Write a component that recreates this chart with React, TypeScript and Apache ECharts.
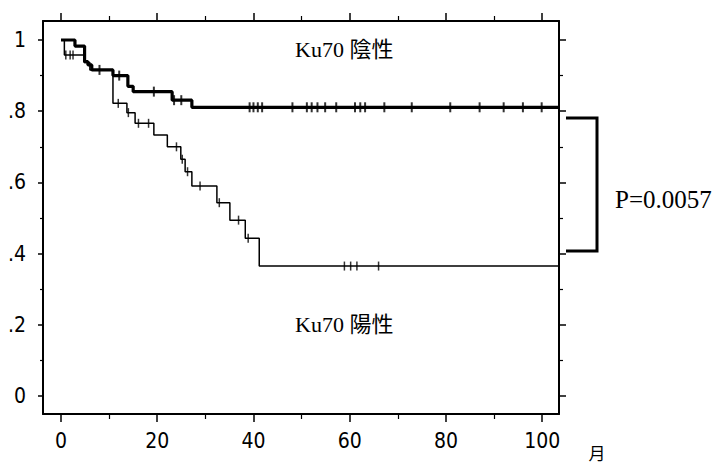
import React, { useEffect, useRef } from "react";
import * as echarts from "echarts";

// Axis ticks / labels
const xTickLabels = [0, 20, 40, 60, 80, 100];
const xMinorTicks = [10, 30, 50, 70, 90];
const yTickLabels = [0, 0.2, 0.4, 0.6, 0.8, 1];
const yMinorTicks = [0.1, 0.3, 0.5, 0.7, 0.9];

// Ku70 negative (thick curve): time of step (months) and survival after step
const negTimes = [0, 2.9, 4.9, 5.6, 6.4, 10.8, 13.9, 15.0, 23.1, 27.2, 103.5];
const negSurv = [1.0, 0.983, 0.939, 0.93, 0.916, 0.9, 0.87, 0.855, 0.831, 0.811, 0.811];
const negCensored = [8.0, 12.1, 19.3, 23.5, 25.0, 39.2, 40.0, 40.9, 41.8, 48.1, 51.1, 52.1, 53.3, 54.9, 57.2, 61.1, 62.2, 63.2, 67.2, 72.9, 80.9, 87.0, 92.0, 96.0, 99.9];

// Ku70 positive (thin curve)
const posTimes = [0, 0.7, 4.8, 6.0, 10.8, 13.7, 15.4, 19.3, 22.1, 24.9, 25.8, 27.2, 32.4, 35.1, 38.3, 41.2, 103.5];
const posSurv = [1.0, 0.958, 0.937, 0.916, 0.822, 0.796, 0.766, 0.733, 0.7, 0.665, 0.63, 0.59, 0.543, 0.494, 0.443, 0.365, 0.365];
const posCensored = [1.0, 1.9, 2.5, 11.9, 14.0, 16.1, 18.2, 24.0, 25.2, 26.3, 28.9, 32.9, 36.9, 38.9, 58.9, 60.2, 61.5, 66.0];

const labelNeg = "Ku70 陰性";
const labelPos = "Ku70 陽性";
const pLabel = "P=0.0057";
const unitLabel = "月";

function stepValue(times: number[], surv: number[], t: number): number {
  let v = surv[0];
  for (let i = 0; i < times.length; i++) {
    if (times[i] <= t) v = surv[i];
  }
  return v;
}

const tickFont = '"DejaVu Sans Condensed", "Liberation Sans Narrow", "DejaVu Sans", sans-serif';
const serifFont = '"Liberation Serif", "Noto Sans CJK JP", serif';

export default function App() {
  const ref = useRef<HTMLDivElement>(null);
  useEffect(() => {
    if (!ref.current) return;
    const chart = echarts.init(ref.current, undefined, { renderer: "svg" });
    const gridRect = { left: 43, right: 161, top: 21, bottom: 49 };
    const xRange = { min: -3.74, max: 103.5 };
    const yRange = { min: -0.0506, max: 1.0534 };
    const lineStyle = { color: "#000", width: 2 };
    const baseX = (extra: any) => ({
      type: "value",
      ...xRange,
      splitLine: { show: false },
      ...extra,
    });
    const baseY = (extra: any) => ({
      type: "value",
      ...yRange,
      splitLine: { show: false },
      ...extra,
    });
    const option: any = {
      animation: false,
      backgroundColor: "#fff",
      grid: [
        { ...gridRect },
        { ...gridRect },
      ],
      xAxis: [
        baseX({
          gridIndex: 0,
          position: "bottom",
          axisLine: { show: true, onZero: false, lineStyle },
          axisTick: { show: true, length: 8, customValues: xTickLabels, lineStyle: { color: "#000", width: 1.5 } },
          axisLabel: {
            show: true,
            customValues: xTickLabels,
            margin: 16,
            color: "#000",
            fontSize: 21,
            fontFamily: tickFont,
          },
        }),
        baseX({
          gridIndex: 0,
          position: "top",
          axisLine: { show: true, onZero: false, lineStyle },
          axisTick: { show: true, length: 8, customValues: xTickLabels, lineStyle: { color: "#000", width: 1.5 } },
          axisLabel: { show: false },
        }),
        baseX({
          gridIndex: 1,
          position: "bottom",
          axisLine: { show: false, onZero: false },
          axisTick: { show: true, length: 5, customValues: xMinorTicks, lineStyle: { color: "#000", width: 1.2 } },
          axisLabel: { show: false },
        }),
        baseX({
          gridIndex: 1,
          position: "top",
          axisLine: { show: false, onZero: false },
          axisTick: { show: true, length: 5, customValues: xMinorTicks, lineStyle: { color: "#000", width: 1.2 } },
          axisLabel: { show: false },
        }),
      ],
      yAxis: [
        baseY({
          gridIndex: 0,
          position: "left",
          axisLine: { show: true, onZero: false, lineStyle },
          axisTick: { show: true, length: 5, customValues: yTickLabels, lineStyle: { color: "#000", width: 1.5 } },
          axisLabel: {
            show: true,
            customValues: yTickLabels,
            margin: 17,
            color: "#000",
            fontSize: 21,
            fontFamily: tickFont,
            formatter: (v: number) => (v === 0 ? "0" : v === 1 ? "1" : "." + Math.round(v * 10)),
          },
        }),
        baseY({
          gridIndex: 0,
          position: "right",
          axisLine: { show: true, onZero: false, lineStyle },
          axisTick: { show: true, length: 7, customValues: yTickLabels, lineStyle: { color: "#000", width: 1.5 } },
          axisLabel: { show: false },
        }),
        baseY({
          gridIndex: 1,
          position: "left",
          axisLine: { show: false, onZero: false },
          axisTick: { show: true, length: 3, customValues: yMinorTicks, lineStyle: { color: "#000", width: 1.2 } },
          axisLabel: { show: false },
        }),
        baseY({
          gridIndex: 1,
          position: "right",
          axisLine: { show: false, onZero: false },
          axisTick: { show: true, length: 4, customValues: yMinorTicks, lineStyle: { color: "#000", width: 1.2 } },
          axisLabel: { show: false },
        }),
      ],
      series: [
        {
          name: labelNeg,
          type: "line",
          xAxisIndex: 0,
          yAxisIndex: 0,
          step: "end",
          showSymbol: false,
          symbol: "none",
          lineStyle: { color: "#000", width: 3.2 },
          data: negTimes.map((t, i) => [t, negSurv[i]]),
          z: 3,
        },
        {
          name: labelPos,
          type: "line",
          xAxisIndex: 0,
          yAxisIndex: 0,
          step: "end",
          showSymbol: false,
          symbol: "none",
          lineStyle: { color: "#000", width: 1.5 },
          data: posTimes.map((t, i) => [t, posSurv[i]]),
          z: 3,
        },
        {
          name: labelNeg + " censored",
          type: "scatter",
          xAxisIndex: 0,
          yAxisIndex: 0,
          symbol: "rect",
          symbolSize: [2, 10],
          itemStyle: { color: "#000" },
          data: negCensored.map((t) => [t, stepValue(negTimes, negSurv, t)]),
          z: 4,
        },
        {
          name: labelPos + " censored",
          type: "scatter",
          xAxisIndex: 0,
          yAxisIndex: 0,
          symbol: "rect",
          symbolSize: [1.5, 9],
          itemStyle: { color: "#000" },
          data: posCensored.map((t) => [t, stepValue(posTimes, posSurv, t)]),
          z: 4,
        },
      ],
      graphic: [
        {
          type: "text",
          x: 295,
          y: 49,
          style: { text: labelNeg, fill: "#000", font: `22px ${serifFont}`, align: "left", verticalAlign: "middle" },
        },
        {
          type: "text",
          x: 295,
          y: 324,
          style: { text: labelPos, fill: "#000", font: `22px ${serifFont}`, align: "left", verticalAlign: "middle" },
        },
        {
          type: "text",
          x: 615,
          y: 199,
          style: { text: pLabel, fill: "#000", font: `25px ${serifFont}`, align: "left", verticalAlign: "middle" },
        },
        {
          type: "text",
          x: 597,
          y: 452,
          style: { text: unitLabel, fill: "#000", font: `17px "Noto Sans CJK JP", sans-serif`, align: "center", verticalAlign: "middle" },
        },
        {
          type: "polyline",
          shape: { points: [[566, 118], [597, 118], [597, 251], [566, 251]] },
          style: { stroke: "#000", lineWidth: 3, fill: "none" },
        },
      ],
    };
    chart.setOption(option);
    return () => chart.dispose();
  }, []);
  return (
    <div
      ref={ref}
      style={{ position: "absolute", left: 0, top: 0, width: 720, height: 463, background: "#fff" }}
    />
  );
}
